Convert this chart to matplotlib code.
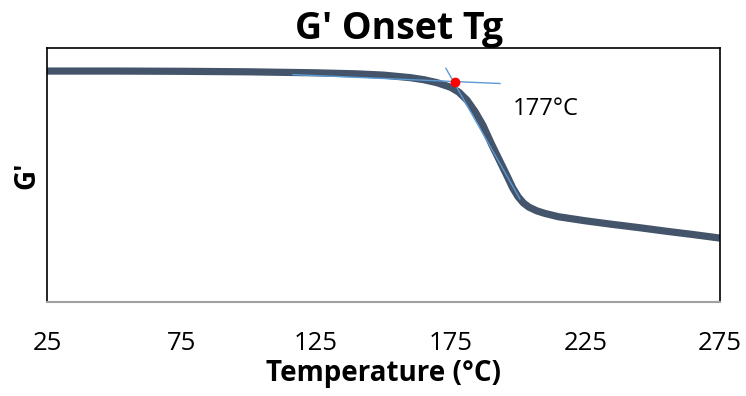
import matplotlib
matplotlib.use("Agg")
import matplotlib.pyplot as plt

temps = [25, 50, 75, 100, 125, 140, 150, 160, 165, 170, 175, 178, 181, 184, 187, 190,
         193, 196, 198, 200, 202, 204, 207, 210, 215, 225, 235, 245, 255, 265, 275]
gprime = [90.9, 90.9, 90.8, 90.6, 90.2, 89.8, 89.3, 88.3, 87.5, 86.3, 84.5, 82.6, 79.5,
          75.0, 69.5, 62.5, 56.0, 49.5, 45.0, 41.5, 39.0, 37.4, 35.9, 34.9, 33.6, 32.0,
          30.6, 29.3, 27.9, 26.6, 25.2]
tangent1_x = [116.4, 193.3]
tangent1_y = [89.5, 86.0]
tangent2_x = [173.2, 200.7]
tangent2_y = [92.0, 40.6]
onset_x = 176.4
onset_y = 86.7
onset_label = "177°C"
xticks = [25, 75, 125, 175, 225, 275]

plt.rcParams['font.family'] = ['Open Sans', 'DejaVu Sans']

fig = plt.figure(figsize=(7.46, 3.96), dpi=100)
ax = fig.add_axes([0.063, 0.237, 0.902, 0.642])

ax.plot(temps, gprime, color='#44546A', lw=5.2, solid_capstyle='butt', zorder=2)
ax.plot(tangent1_x, tangent1_y, color='#5B9BD5', lw=1.0, zorder=3)
ax.plot(tangent2_x, tangent2_y, color='#5B9BD5', lw=1.0, zorder=3)
ax.plot([onset_x], [onset_y], 'o', color='#FF0000', ms=6, zorder=4)
ax.text(198, 76.0, onset_label, fontsize=17, va='center', ha='left', color='black')

ax.set_xlim(25, 275)
ax.set_ylim(0, 100)
ax.set_xticks(xticks)
ax.set_yticks([])
ax.tick_params(axis='x', length=0, pad=21, labelsize=18.5)

for s in ['left', 'top', 'right']:
    ax.spines[s].set_color('black')
    ax.spines[s].set_linewidth(1.2)
ax.spines['bottom'].set_color('#A0A0A0')
ax.spines['bottom'].set_linewidth(1.5)

ax.set_title("G' Onset Tg", fontsize=27, fontweight='bold', pad=1, x=0.524)
ax.set_xlabel("Temperature (°C)", fontsize=20, fontweight='bold', labelpad=2)
ax.set_ylabel("G'", fontsize=20, fontweight='bold', labelpad=4)

fig.savefig("out.png", dpi=100)
